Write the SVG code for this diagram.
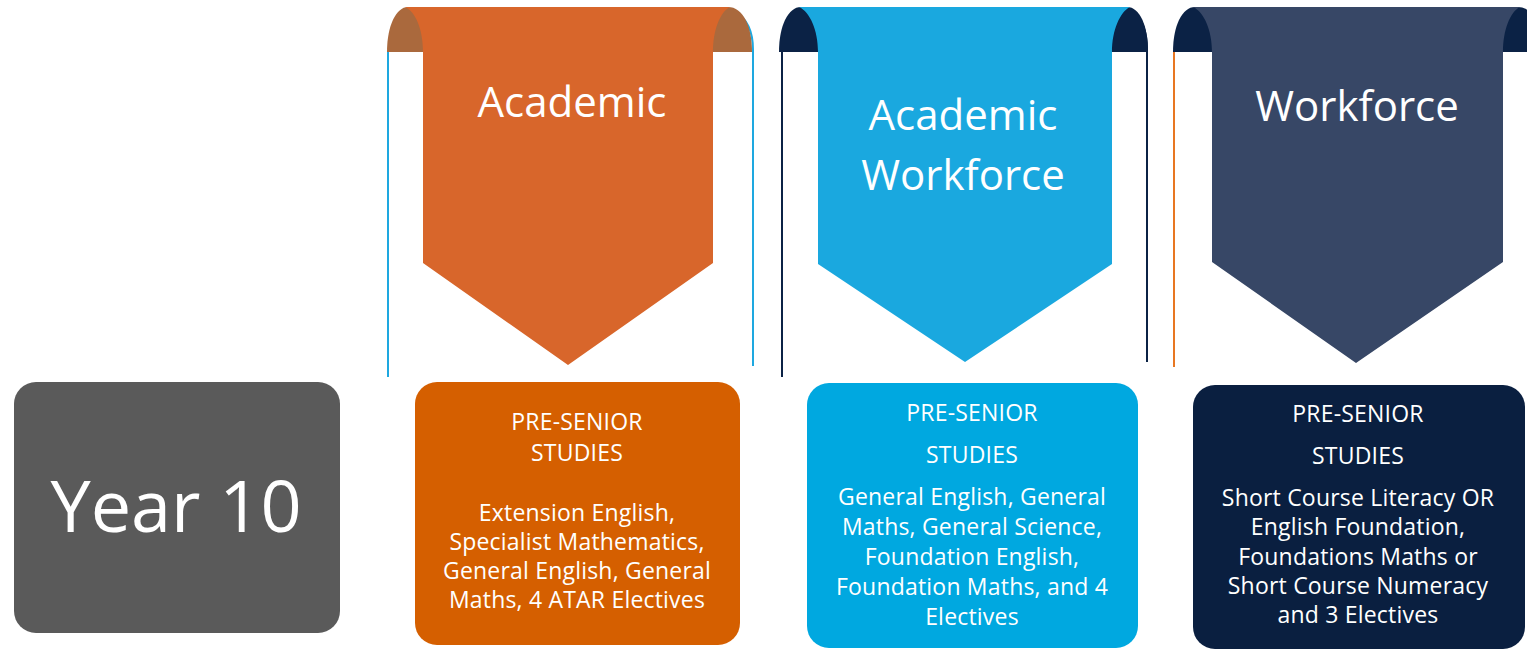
<svg xmlns="http://www.w3.org/2000/svg" width="1527" height="652" viewBox="0 0 1527 652">
<style>
text{font-family:"Open Sans","Noto Sans","DejaVu Sans",sans-serif;fill:#ffffff;text-anchor:middle}
.title{font-size:42px}
.year{font-size:72px}
.body{font-size:23px;letter-spacing:0.2px}
.line{fill:none;stroke-width:2}
</style>
<rect width="1527" height="652" fill="#ffffff"/>

<g id="year10">
<rect x="14" y="382" width="326" height="251" rx="22" fill="#5a5a5a"/>
<text class="year" x="176" y="532">Year 10</text>
</g>

<g id="banner-academic">
<path class="line" stroke="#1ea8e0" d="M388,50 V377"/>
<path class="line" stroke="#1ea8e0" d="M735,12 C746,18 753,30 753,50 V366"/>
<path fill="#aa693d" d="M387,52 C387,26 396,7 408,7 H430 V52 Z"/>
<path fill="#aa693d" d="M752,52 C752,26 743,7 728,7 H706 V52 Z"/>
<path fill="#d8662b" d="M405,7 H730 C720,12 713,30 713,52 V263 L568,365 L423,263 V52 C423,30 416,12 405,7 Z"/>
<text class="title" x="572" y="117">Academic</text>
</g>

<g id="banner-academic-workforce">
<path class="line" stroke="#0b2245" d="M782,50 V377"/>
<path class="line" stroke="#0b2245" d="M1132,12 C1142,18 1147,30 1147,50 V362"/>
<path fill="#0b2245" d="M779,52 C779,26 788,7 801,7 H825 V52 Z"/>
<path fill="#0b2245" d="M1148,52 C1148,26 1140,7 1127,7 H1105 V52 Z"/>
<path fill="#1aa8df" d="M799,7 H1130 C1120,12 1112,30 1112,52 V264 L965,362 L818,264 V52 C818,30 810,12 799,7 Z"/>
<text class="title" x="963" y="130">Academic</text>
<text class="title" x="963" y="190">Workforce</text>
</g>

<g id="banner-workforce">
<path class="line" stroke="#e87722" d="M1174,50 V367"/>
<path fill="#0b2245" d="M1173,52 C1173,26 1182,7 1195,7 H1219 V52 Z"/>
<path fill="#0b2245" d="M1542,52 C1542,26 1533,7 1518,7 H1496 V52 Z"/>
<path fill="#374766" d="M1193,7 H1520 C1510,12 1503,30 1503,52 V262 L1356,363 L1212,262 V52 C1212,30 1204,12 1193,7 Z"/>
<text class="title" x="1357" y="121">Workforce</text>
</g>

<g id="box-academic">
<rect x="415" y="382" width="325" height="263" rx="22" fill="#d55f00"/>
<text class="body" x="577" y="430">PRE-SENIOR</text>
<text class="body" x="577" y="461">STUDIES</text>
<text class="body" x="577" y="521">Extension English,</text>
<text class="body" x="577" y="550">Specialist Mathematics,</text>
<text class="body" x="577" y="579">General English, General</text>
<text class="body" x="577" y="608">Maths, 4 ATAR Electives</text>
</g>

<g id="box-academic-workforce">
<rect x="807" y="383" width="331" height="265" rx="22" fill="#00a8e0"/>
<text class="body" x="972" y="421">PRE-SENIOR</text>
<text class="body" x="972" y="463">STUDIES</text>
<text class="body" x="972" y="505">General English, General</text>
<text class="body" x="972" y="535">Maths, General Science,</text>
<text class="body" x="972" y="565">Foundation English,</text>
<text class="body" x="972" y="595">Foundation Maths, and 4</text>
<text class="body" x="972" y="625">Electives</text>
</g>

<g id="box-workforce">
<rect x="1193" y="385" width="332" height="264" rx="22" fill="#0a1f40"/>
<text class="body" x="1358" y="422">PRE-SENIOR</text>
<text class="body" x="1358" y="464">STUDIES</text>
<text class="body" x="1358" y="506">Short Course Literacy OR</text>
<text class="body" x="1358" y="535">English Foundation,</text>
<text class="body" x="1358" y="565">Foundations Maths or</text>
<text class="body" x="1358" y="594">Short Course Numeracy</text>
<text class="body" x="1358" y="623">and 3 Electives</text>
</g>
</svg>
